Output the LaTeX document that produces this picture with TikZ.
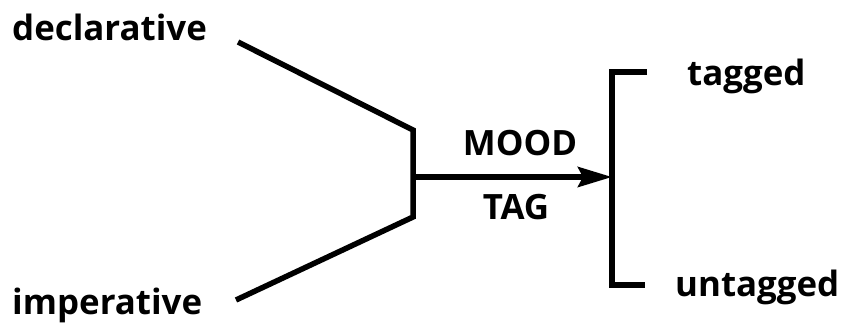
\documentclass[tikz,border=0pt]{standalone}
\usepackage{fontspec}
\setmainfont{Open Sans}
\usetikzlibrary{arrows.meta}

\begin{document}
\begin{tikzpicture}[x=1bp,y=-1bp,
	lbl/.style={font=\bfseries\fontsize{35}{35}\selectfont,inner sep=0pt},
	thick line/.style={line width=5.5bp}]
\useasboundingbox (0,0) rectangle (842,325);
\node[lbl,anchor=base west] (decl) at (12,40) {declarative};
\node[lbl,anchor=base west] (imp) at (12,314) {imperative};
\node[lbl,anchor=base] (mood) at (520,155) {MOOD};
\node[lbl,anchor=base] (tag) at (516,219) {TAG};
\node[lbl,anchor=base west] (tagged) at (687,85) {tagged};
\node[lbl,anchor=base west] (untagged) at (675,296) {untagged};
\coordinate (d) at (238,42);
\coordinate (i) at (236,300);
\coordinate (f1) at (413,130);
\coordinate (f2) at (413,217);
\coordinate (b1) at (612,72);
\coordinate (b2) at (612,285);
\draw[thick line,line join=miter] (d) -- (f1) -- (f2) -- (i);
\draw[thick line,-{Stealth[length=34bp,width=20bp,inset=5bp]}] (f1 |- 0,177) -- (b1 |- 0,177);
\draw[thick line] (b1 -| 647,0) -- (b1) -- (b2) -- (b2 -| 645,0);
\end{tikzpicture}
\end{document}
